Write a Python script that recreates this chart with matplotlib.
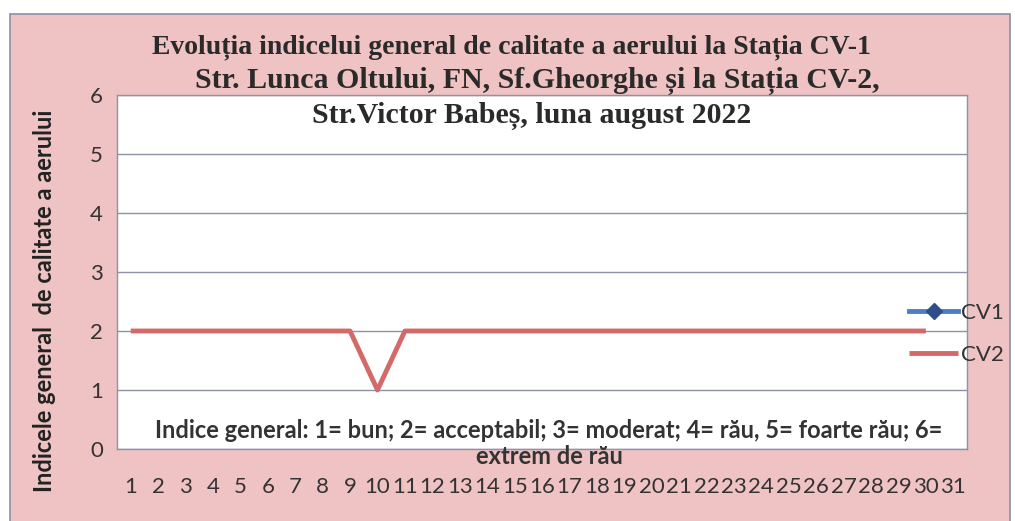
import numpy as np
import matplotlib.pyplot as plt
from matplotlib.patches import Rectangle

# zilele lunii august 2022
days = [str(d) for d in range(1, 32)]
# CV1 fara date in luna august
cv1 = [np.nan] * 30
# CV2 indice general
cv2 = [2, 2, 2, 2, 2, 2, 2, 2, 2, 1,
       2, 2, 2, 2, 2, 2, 2, 2, 2, 2,
       2, 2, 2, 2, 2, 2, 2, 2, 2, 2]
yticks = [0, 1, 2, 3, 4, 5, 6]

title_lines = ["Evoluția indicelui general de calitate a aerului la Stația CV-1",
               "Str. Lunca Oltului, FN, Sf.Gheorghe și la Stația CV-2,",
               "Str.Victor Babeș, luna august 2022"]

pink = '#EFC2C3'
sans = ['Lato', 'DejaVu Sans']
serif = ['Liberation Serif', 'DejaVu Serif']

fig = plt.figure(figsize=(10.15, 5.21), dpi=100)
fig.patch.set_facecolor('white')
# chenarul graficului
fig.patches.append(Rectangle((10/1015, -0.01), 1000/1015, 1 - 14/521 + 0.01,
                             transform=fig.transFigure, facecolor=pink,
                             edgecolor='#8a8fa8', linewidth=1.2, zorder=-5))

ax = fig.add_axes([117/1015, 1 - 449/521, 850/1015, 354/521])
ax.set_facecolor('white')
x = np.arange(len(cv2))
ax.plot(x, cv1, color='#4a7ec8', linewidth=3.5, marker='D', markersize=8,
        markerfacecolor='#2e4e8a', markeredgecolor='#2e4e8a', label='CV1')
ax.plot(x, cv2, color='#d36a69', linewidth=3.5, label='CV2', solid_capstyle='butt')

ax.set_xlim(-0.5, len(days) - 0.5)
ax.set_ylim(0, 6)
ax.set_xticks(np.arange(len(days)))
ax.set_xticklabels(days, fontfamily=sans, fontsize=16, color='#333333')
ax.set_yticks(yticks)
ax.set_yticklabels([str(v) for v in yticks], fontfamily=sans, fontsize=16, color='#333333')
ax.tick_params(length=0)
ax.tick_params(axis='x', pad=20)
ax.tick_params(axis='y', pad=10)
ax.grid(axis='y', color='#8e92a6', linewidth=1)
ax.set_axisbelow(True)
for s in ax.spines.values():
    s.set_color('#8e92a6')
    s.set_linewidth(1)

ax.set_ylabel('Indicele general  de calitate a aerului', fontfamily=sans,
              fontsize=17, fontweight='bold', color='#222222')
ax.yaxis.set_label_coords(-0.072, 0.42)

leg = ax.legend(loc='center left', bbox_to_anchor=(0.932, 0.325), frameon=False,
                prop={'family': sans, 'size': 16}, handlelength=2.2,
                labelspacing=1.0, handletextpad=0.15, borderpad=0, borderaxespad=0)
for t in leg.get_texts():
    t.set_color('#333333')

fig.text(549/1015, 1 - 431/521,
         'Indice general: 1= bun; 2= acceptabil; 3= moderat; 4= rău, 5= foarte rău; 6=',
         ha='center', va='center', fontfamily=sans, fontsize=17, fontweight='bold',
         color='#333333')
fig.text(549/1015, 1 - 457/521, 'extrem de rău', ha='center', va='center',
         fontfamily=sans, fontsize=17, fontweight='bold', color='#333333')

for line, xx, yy, fs in zip(title_lines, [511, 537, 532], [47, 81, 116], [20, 21.5, 21.5]):
    fig.text(xx/1015, 1 - yy/521, line,
             ha='center', va='center', fontfamily=serif, fontsize=fs,
             fontweight='bold', color='#2a2a2a')

fig.savefig('out.png', dpi=100)
